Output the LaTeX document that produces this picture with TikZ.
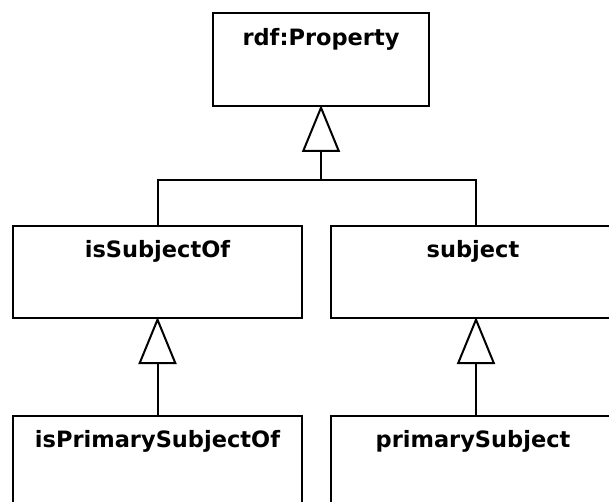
\documentclass[tikz,border=0pt]{standalone}
\usepackage{fontspec}
\setmainfont{DejaVu Sans}
\usetikzlibrary{arrows.meta}
\tikzset{
  box/.style={draw=black, line width=2pt, fill=white, rectangle, inner sep=0pt},
  lbl/.style={anchor=base, inner sep=0pt, font=\fontsize{22.5pt}{26pt}\selectfont\bfseries},
  conn/.style={line width=2pt},
  gen/.style={line width=2pt, shorten >=-2pt, -{Triangle[open, length=47pt, width=38pt]}}
}
\begin{document}
\begin{tikzpicture}[x=1pt, y=-1pt]
\useasboundingbox (0,0) rectangle (609,502);
\clip (0,0) rectangle (609,502);
\fill[white] (0,0) rectangle (609,502);
% boxes
\node[box, minimum width=216pt, minimum height=93pt] (prop) at (321,59.5) {};
\node[box, minimum width=289pt, minimum height=92pt] (isub) at (157.5,272) {};
\node[box, minimum width=290pt, minimum height=92pt] (subj) at (476,272) {};
\node[box, minimum width=289pt, minimum height=110pt] (ipso) at (157.5,471) {};
\node[box, minimum width=290pt, minimum height=110pt] (psub) at (476,471) {};
% labels
\node[lbl] (tprop) at ([yshift=-34pt]prop.north) {rdf:Property};
\node[lbl] (tisub) at ([yshift=-33pt]isub.north) {isSubjectOf};
\node[lbl, xshift=-3pt] (tsubj) at ([yshift=-33pt]subj.north) {subject};
\node[lbl] (tipso) at ([yshift=-32pt]ipso.north) {isPrimarySubjectOf};
\node[lbl, xshift=-3pt] (tpsub) at ([yshift=-32pt]psub.north) {primarySubject};
% connectors
\coordinate (j) at (321,180.5);
\draw[conn] (isub.north) |- (j);
\draw[conn] (subj.north) |- (j);
\draw[gen] (j) -- (prop.south);
\draw[gen] (ipso.north) -- (isub.south);
\draw[gen] (psub.north) -- (subj.south);
\end{tikzpicture}
\end{document}
